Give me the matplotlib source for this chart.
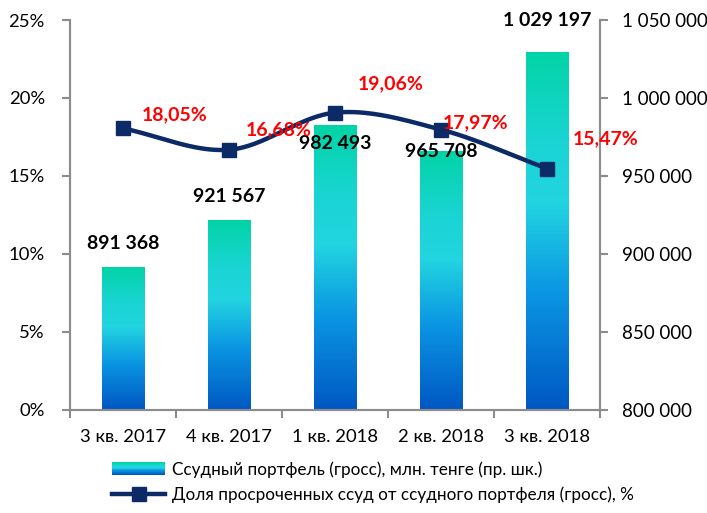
import numpy as np
import matplotlib
matplotlib.use('Agg')
import matplotlib.pyplot as plt
from matplotlib.colors import LinearSegmentedColormap
from matplotlib.legend_handler import HandlerBase
from matplotlib.patches import Rectangle, Patch
from matplotlib.lines import Line2D

# ---------------- data ----------------
categories = ['3 кв. 2017', '4 кв. 2017', '1 кв. 2018', '2 кв. 2018', '3 кв. 2018']
portfolio = [891368, 921567, 982493, 965708, 1029197]          # right axis, bars
overdue_share = [18.05, 16.68, 19.06, 17.97, 15.47]            # left axis, line (%)
pct_ticks = [0, 5, 10, 15, 20, 25]
right_ticks = [800000, 850000, 900000, 950000, 1000000, 1050000]
legend_labels = ['Ссудный портфель (гросс), млн. тенге (пр. шк.)',
                 'Доля просроченных ссуд от ссудного портфеля (гросс), %']

plt.rcParams['font.family'] = ['Lato', 'DejaVu Sans']

def fmt_thousands(v):
    return f"{v:,}".replace(',', ' ')

def fmt_pct(v):
    return f"{v:.2f}%".replace('.', ',')

grad_cmap = LinearSegmentedColormap.from_list(
    'bargrad', [(0.0, '#0057C2'), (0.33, '#0B96E3'), (0.58, '#22D4E0'), (0.75, '#1AD5D4'), (1.0, '#02D3A6')])
line_color = '#0B2A66'
spine_color = '#8C8C8C'

fig = plt.figure(figsize=(7.07, 5.13), dpi=100)
ax = fig.add_axes([0.099, 0.201, 0.750, 0.760])
ax2 = ax.twinx()

x = np.arange(len(categories))
bar_w = 0.4
ymin, ymax = right_ticks[0], right_ticks[-1]

# gradient bars on ax (right scale)
grad = np.linspace(0, 1, 256).reshape(-1, 1)
for xi, v in zip(x, portfolio):
    ax.imshow(grad, cmap=grad_cmap, origin='lower', aspect='auto',
              extent=[xi - bar_w / 2, xi + bar_w / 2, ymin, v], zorder=2)
ax.set_xlim(-0.5, len(categories) - 0.5)
ax.set_ylim(ymin, ymax)

# bar labels
bar_offsets = [24, 24, -18, 0, 32]
for xi, v, off in zip(x, portfolio, bar_offsets):
    ax.annotate(fmt_thousands(v), (xi, v), xytext=(0, off), textcoords='offset pixels',
                ha='center', va='center', fontsize=14, fontweight='bold', color='black', zorder=5)

# smooth line (Catmull-Rom through data points)
def catmull_rom(xs, ys, n=40):
    xs = np.asarray(xs, float); ys = np.asarray(ys, float)
    px = np.concatenate([[2 * xs[0] - xs[1]], xs, [2 * xs[-1] - xs[-2]]])
    py = np.concatenate([[2 * ys[0] - ys[1]], ys, [2 * ys[-1] - ys[-2]]])
    ox, oy = [], []
    for i in range(1, len(px) - 2):
        t = np.linspace(0, 1, n)
        for P, out in ((px, ox), (py, oy)):
            p0, p1, p2, p3 = P[i - 1], P[i], P[i + 1], P[i + 2]
            out.extend(0.5 * ((2 * p1) + (-p0 + p2) * t + (2 * p0 - 5 * p1 + 4 * p2 - p3) * t ** 2
                              + (-p0 + 3 * p1 - 3 * p2 + p3) * t ** 3))
    return np.array(ox), np.array(oy)

sx, sy = catmull_rom(x, overdue_share)
ax2.plot(sx, sy, color=line_color, lw=3.2, zorder=3, solid_capstyle='round')
ax2.plot(x, overdue_share, ls='none', marker='s', ms=10, color=line_color, zorder=4)
ax2.set_ylim(pct_ticks[0], pct_ticks[-1])

pct_offsets = [(52, 14), (50, 20), (56, 29), (34, 7), (58, 30)]
for xi, v, (dx, dy) in zip(x, overdue_share, pct_offsets):
    ax2.annotate(fmt_pct(v), (xi, v), xytext=(dx, dy), textcoords='offset pixels',
                 ha='center', va='center', fontsize=14, fontweight='bold', color='#FF0000', zorder=6)

# axes styling
ax.yaxis.tick_right()
ax.set_yticks(right_ticks)
ax.set_yticklabels([fmt_thousands(t) for t in right_ticks])
ax2.yaxis.tick_left()
ax2.set_yticks(pct_ticks)
ax2.set_yticklabels([f"{t}%" for t in pct_ticks])

ax.set_xticks(np.arange(-0.5, len(categories)))
ax.set_xticklabels([])
ax.set_xticks(x, minor=True)
ax.set_xticklabels(categories, minor=True)
ax.tick_params(axis='x', which='major', length=6, width=1.5, color=spine_color, direction='out')
ax.tick_params(axis='x', which='minor', length=0, pad=14, labelsize=13.3)
ax.tick_params(axis='y', length=6, width=1.5, color=spine_color, direction='out', pad=10, labelsize=13.5)
ax2.tick_params(axis='y', length=6, width=1.5, color=spine_color, direction='out', pad=12, labelsize=13.3)

for a in (ax, ax2):
    a.spines['top'].set_visible(False)
    for s in ('left', 'right', 'bottom'):
        a.spines[s].set_color(spine_color)
        a.spines[s].set_linewidth(1.5)

# legend with gradient handle
class HandlerGradient(HandlerBase):
    def create_artists(self, legend, orig_handle, xdescent, ydescent, width, height, fontsize, trans):
        n = 20
        arts = []
        for i in range(n):
            c = grad_cmap(i / (n - 1))
            r = Rectangle((-xdescent, -ydescent + height * i / n), width, height / n + 0.3,
                          facecolor=c, edgecolor='none', transform=trans)
            arts.append(r)
        return arts

bar_handle = Patch(facecolor='#22D4DF')
line_handle = Line2D([0], [0], color=line_color, lw=3.2, marker='s', ms=10)
fig.legend([bar_handle, line_handle], legend_labels,
           handler_map={Patch: HandlerGradient()},
           loc='center', bbox_to_anchor=(0.528, 0.060), frameon=False,
           fontsize=12.3, handlelength=3.1, handleheight=0.75, labelspacing=0.55, handletextpad=0.4)

fig.savefig('out.png', dpi=100)
